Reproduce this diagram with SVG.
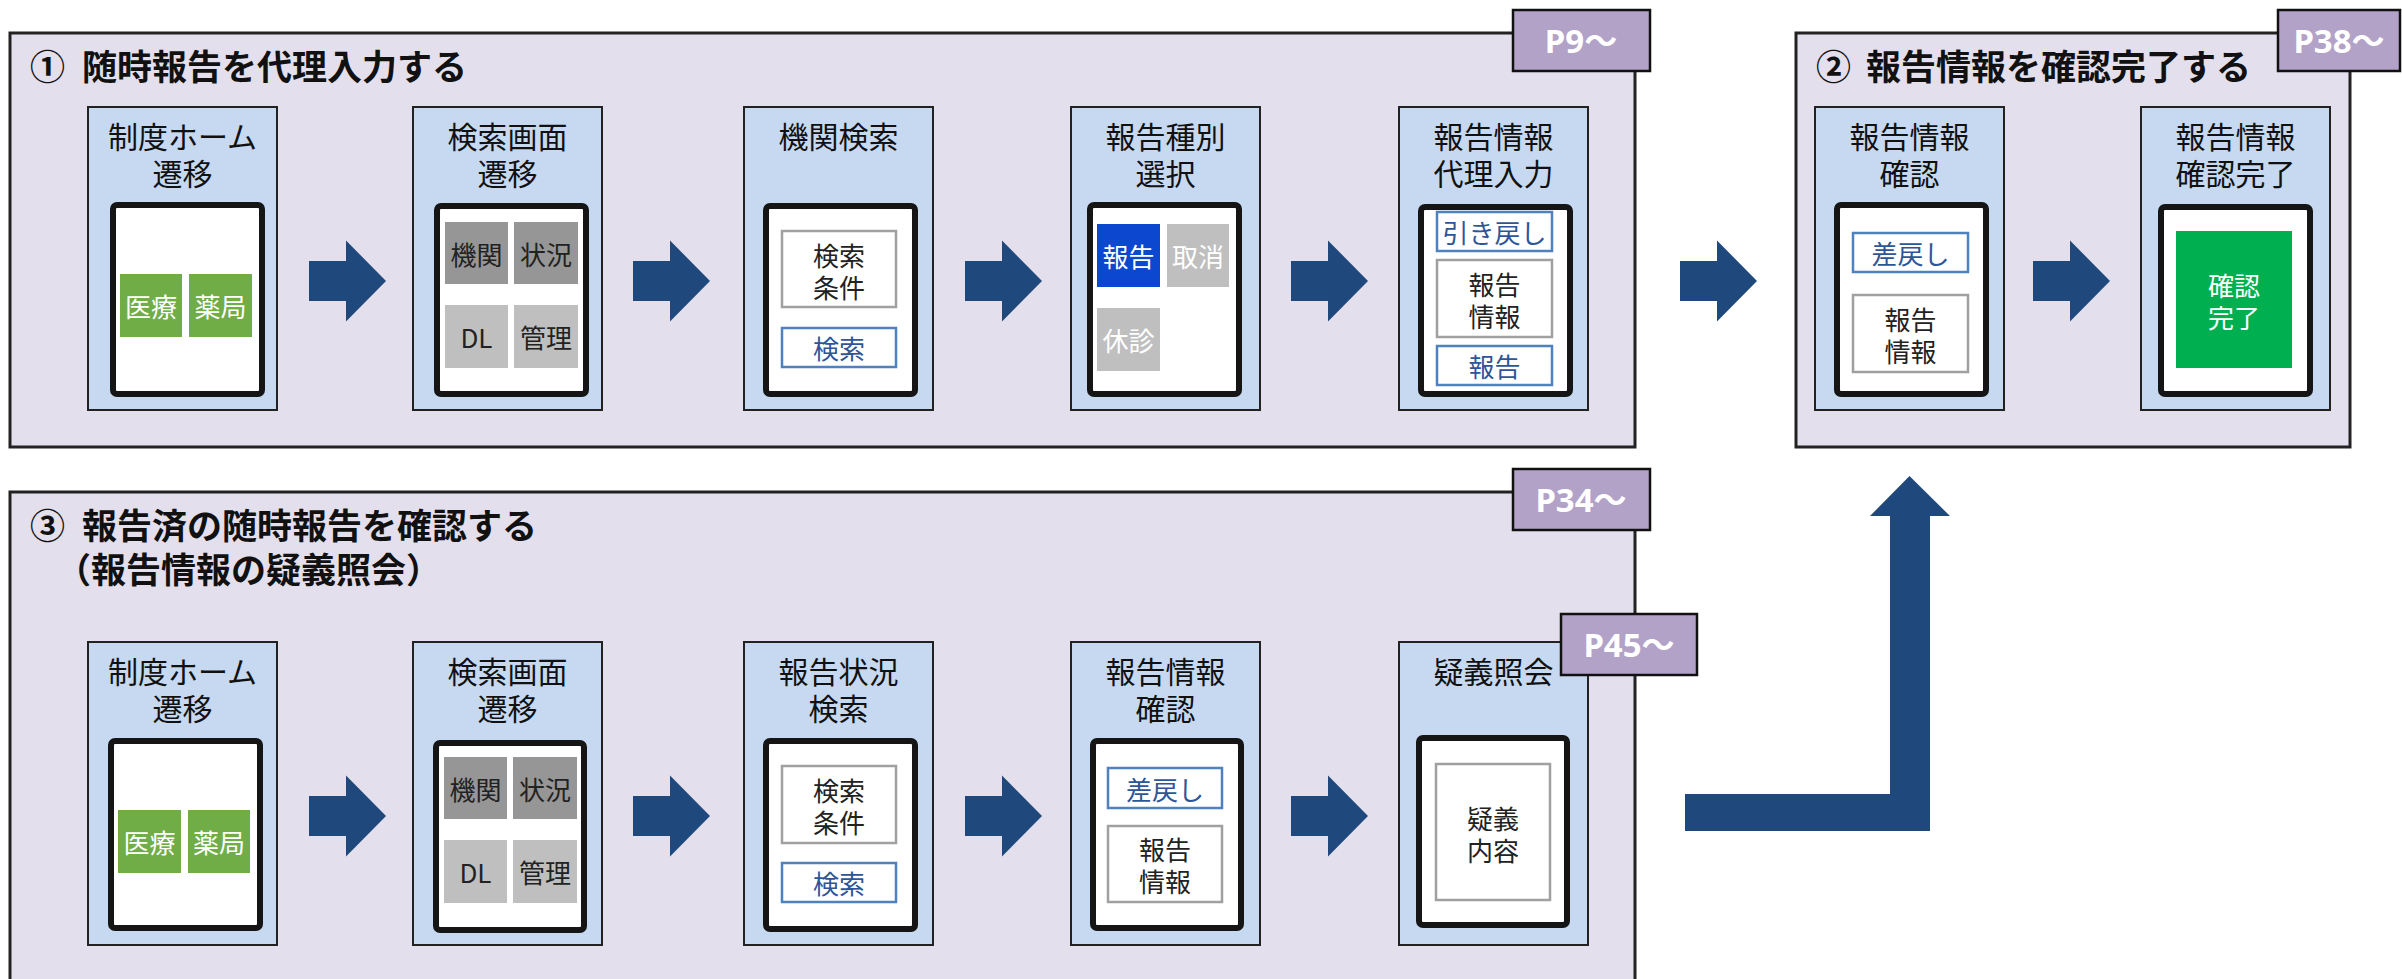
<svg xmlns="http://www.w3.org/2000/svg" xmlns:xlink="http://www.w3.org/1999/xlink" width="2402" height="979" viewBox="0 0 2402 979">
<style>
text{font-family:"Noto Sans CJK JP","Noto Sans",sans-serif;}
.panel{fill:#E4DFEC;stroke:#222;stroke-width:3;}
.node{fill:#C6D9F1;stroke:#222;stroke-width:2;}
.phone{fill:#fff;stroke:#151515;stroke-width:6;}
.tag{fill:#B3A2C7;stroke:#111;stroke-width:2.5;}
.tagt{fill:#fff;font-size:33px;font-weight:700;text-anchor:middle;dominant-baseline:central;font-family:"Noto Sans","Noto Sans CJK JP",sans-serif;}
.title{fill:#111;font-size:35px;font-weight:700;}
.lbl{fill:#111;font-size:30px;text-anchor:middle;}
.in{font-size:26px;text-anchor:middle;dominant-baseline:central;}
.dk{fill:#222;}
.wh{fill:#fff;}
.bl{fill:#2E5597;}
.green{fill:#70AD47;}
.g1{fill:#969696;}
.g2{fill:#BFBFBF;}
.blue{fill:#0B48CF;}
.ok{fill:#00B050;}
.btn{fill:#fff;stroke:#4F81BD;stroke-width:2.5;}
.box{fill:#fff;stroke:#A0A0A0;stroke-width:2.5;}
.arr{fill:#1F497D;}
</style>
<defs>
<path id="arrow" d="M0,-20 H37 V-40.5 L77,0 L37,40.5 V20 H0 Z"/>
</defs>

<g id="panel1">
<rect class="panel" x="10" y="33" width="1625" height="414"/>
<text class="title" x="30" y="80">①<tspan x="82">随時報告を代理入力する</tspan></text>
</g>
<g id="tag-p9"><rect class="tag" x="1513" y="10" width="137" height="61"/><text class="tagt" x="1581" y="40">P9～</text></g>

<g id="panel2">
<rect class="panel" x="1796" y="33" width="554" height="414"/>
<text class="title" x="1816" y="80">②<tspan x="1866">報告情報を確認完了する</tspan></text>
</g>
<g id="tag-p38"><rect class="tag" x="2278" y="10" width="122" height="61"/><text class="tagt" x="2339" y="40">P38～</text></g>

<g id="panel3">
<rect class="panel" x="10" y="492" width="1625" height="495"/>
<text class="title" x="30" y="539">③<tspan x="82">報告済の随時報告を確認する</tspan><tspan x="56" dy="44">（報告情報の疑義照会）</tspan></text>
</g>
<g id="tag-p34"><rect class="tag" x="1513" y="469" width="137" height="61"/><text class="tagt" x="1581" y="499">P34～</text></g>

<!-- Panel 1 nodes -->
<g id="n1-home">
<rect class="node" x="88" y="107" width="189" height="303"/>
<text class="lbl" x="182.5" y="148">制度ホーム<tspan x="182.5" dy="37">遷移</tspan></text>
<rect class="phone" x="113" y="205" width="149" height="189" rx="4"/>
<rect class="green" x="120" y="274" width="62" height="63"/><text class="in wh" x="151" y="305.5">医療</text>
<rect class="green" x="189" y="274" width="63" height="63"/><text class="in wh" x="220.5" y="305.5">薬局</text>
</g>
<g id="n1-search">
<rect class="node" x="413" y="107" width="189" height="303"/>
<text class="lbl" x="507.5" y="148">検索画面<tspan x="507.5" dy="37">遷移</tspan></text>
<rect class="phone" x="437" y="206" width="149" height="188" rx="4"/>
<rect class="g1" x="445" y="222" width="63" height="62"/><text class="in dk" x="476.5" y="253">機関</text>
<rect class="g1" x="514" y="222" width="64" height="62"/><text class="in dk" x="546" y="253">状況</text>
<rect class="g2" x="445" y="305" width="63" height="63"/><text class="in dk" x="476.5" y="336.5">DL</text>
<rect class="g2" x="514" y="305" width="64" height="63"/><text class="in dk" x="546" y="336.5">管理</text>
</g>
<g id="n1-kikan">
<rect class="node" x="744" y="107" width="189" height="303"/>
<text class="lbl" x="838.5" y="148">機関検索</text>
<rect class="phone" x="766" y="206" width="149" height="188" rx="4"/>
<rect class="box" x="782" y="231" width="114" height="76"/>
<text class="in dk" x="839" y="254">検索<tspan x="839" dy="32">条件</tspan></text>
<rect class="btn" x="782" y="328" width="114" height="39"/><text class="in bl" x="839" y="347.5">検索</text>
</g>
<g id="n1-type">
<rect class="node" x="1071" y="107" width="189" height="303"/>
<text class="lbl" x="1165.5" y="148">報告種別<tspan x="1165.5" dy="37">選択</tspan></text>
<rect class="phone" x="1090" y="205" width="149" height="189" rx="4"/>
<rect class="blue" x="1097" y="224" width="63" height="63"/><text class="in wh" x="1128.5" y="255.5">報告</text>
<rect class="g2" x="1167" y="224" width="62" height="63"/><text class="in wh" x="1198" y="255.5">取消</text>
<rect class="g2" x="1097" y="308" width="63" height="63"/><text class="in wh" x="1128.5" y="339.5">休診</text>
</g>
<g id="n1-input">
<rect class="node" x="1399" y="107" width="189" height="303"/>
<text class="lbl" x="1493.5" y="148">報告情報<tspan x="1493.5" dy="37">代理入力</tspan></text>
<rect class="phone" x="1421" y="207" width="149" height="187" rx="4"/>
<rect class="btn" x="1437" y="212" width="115" height="39"/><text class="in bl" x="1494.5" y="231.5">引き戻し</text>
<rect class="box" x="1437" y="260" width="115" height="77"/>
<text class="in dk" x="1494.5" y="283">報告<tspan x="1494.5" dy="32">情報</tspan></text>
<rect class="btn" x="1437" y="346" width="115" height="39"/><text class="in bl" x="1494.5" y="365.5">報告</text>
</g>

<!-- Panel 2 nodes -->
<g id="n2-confirm">
<rect class="node" x="1815" y="107" width="189" height="303"/>
<text class="lbl" x="1909.5" y="148">報告情報<tspan x="1909.5" dy="37">確認</tspan></text>
<rect class="phone" x="1837" y="205" width="149" height="189" rx="4"/>
<rect class="btn" x="1853" y="233" width="115" height="39"/><text class="in bl" x="1910.5" y="252.5">差戻し</text>
<rect class="box" x="1853" y="295" width="115" height="77"/>
<text class="in dk" x="1910.5" y="318">報告<tspan x="1910.5" dy="32">情報</tspan></text>
</g>
<g id="n2-done">
<rect class="node" x="2141" y="107" width="189" height="303"/>
<text class="lbl" x="2235.5" y="148">報告情報<tspan x="2235.5" dy="37">確認完了</tspan></text>
<rect class="phone" x="2161" y="207" width="149" height="187" rx="4"/>
<rect class="ok" x="2176" y="231" width="116" height="137"/>
<text class="in wh" x="2234" y="284">確認<tspan x="2234" dy="32">完了</tspan></text>
</g>

<!-- Panel 3 nodes -->
<g id="n3-home">
<rect class="node" x="88" y="642" width="189" height="303"/>
<text class="lbl" x="182.5" y="683">制度ホーム<tspan x="182.5" dy="37">遷移</tspan></text>
<rect class="phone" x="111" y="741" width="149" height="187" rx="4"/>
<rect class="green" x="118" y="810" width="63" height="63"/><text class="in wh" x="149.5" y="841.5">医療</text>
<rect class="green" x="188" y="810" width="62" height="63"/><text class="in wh" x="219" y="841.5">薬局</text>
</g>
<g id="n3-search">
<rect class="node" x="413" y="642" width="189" height="303"/>
<text class="lbl" x="507.5" y="683">検索画面<tspan x="507.5" dy="37">遷移</tspan></text>
<rect class="phone" x="436" y="743" width="148" height="187" rx="4"/>
<rect class="g1" x="444" y="757" width="63" height="62"/><text class="in dk" x="475.5" y="788">機関</text>
<rect class="g1" x="513" y="757" width="64" height="62"/><text class="in dk" x="545" y="788">状況</text>
<rect class="g2" x="444" y="840" width="63" height="63"/><text class="in dk" x="475.5" y="871.5">DL</text>
<rect class="g2" x="513" y="840" width="64" height="63"/><text class="in dk" x="545" y="871.5">管理</text>
</g>
<g id="n3-status">
<rect class="node" x="744" y="642" width="189" height="303"/>
<text class="lbl" x="838.5" y="683">報告状況<tspan x="838.5" dy="37">検索</tspan></text>
<rect class="phone" x="766" y="741" width="149" height="188" rx="4"/>
<rect class="box" x="782" y="766" width="114" height="77"/>
<text class="in dk" x="839" y="789">検索<tspan x="839" dy="32">条件</tspan></text>
<rect class="btn" x="782" y="863" width="114" height="39"/><text class="in bl" x="839" y="882.5">検索</text>
</g>
<g id="n3-confirm">
<rect class="node" x="1071" y="642" width="189" height="303"/>
<text class="lbl" x="1165.5" y="683">報告情報<tspan x="1165.5" dy="37">確認</tspan></text>
<rect class="phone" x="1093" y="741" width="148" height="187" rx="4"/>
<rect class="btn" x="1108" y="768" width="114" height="40"/><text class="in bl" x="1165" y="788">差戻し</text>
<rect class="box" x="1108" y="826" width="114" height="76"/>
<text class="in dk" x="1165" y="848">報告<tspan x="1165" dy="32">情報</tspan></text>
</g>
<g id="n3-inquiry">
<rect class="node" x="1399" y="642" width="189" height="303"/>
<text class="lbl" x="1493.5" y="683">疑義照会</text>
<rect class="phone" x="1419" y="738" width="148" height="187" rx="4"/>
<rect class="box" x="1436" y="764" width="114" height="136"/>
<text class="in dk" x="1493" y="817">疑義<tspan x="1493" dy="32">内容</tspan></text>
</g>
<g id="tag-p45"><rect class="tag" x="1561" y="614" width="136" height="61"/><text class="tagt" x="1629" y="644">P45～</text></g>

<g id="connectors" class="arr">
<use href="#arrow" x="309" y="281"/>
<use href="#arrow" x="633" y="281"/>
<use href="#arrow" x="965" y="281"/>
<use href="#arrow" x="1291" y="281"/>
<use href="#arrow" x="1680" y="281"/>
<use href="#arrow" x="2033" y="281"/>
<use href="#arrow" x="309" y="816"/>
<use href="#arrow" x="633" y="816"/>
<use href="#arrow" x="965" y="816"/>
<use href="#arrow" x="1291" y="816"/>
<path d="M1685,794 H1890 V516 H1870 L1909.5,476 L1950,516 H1930 V831 H1685 Z"/>
</g>
</svg>
